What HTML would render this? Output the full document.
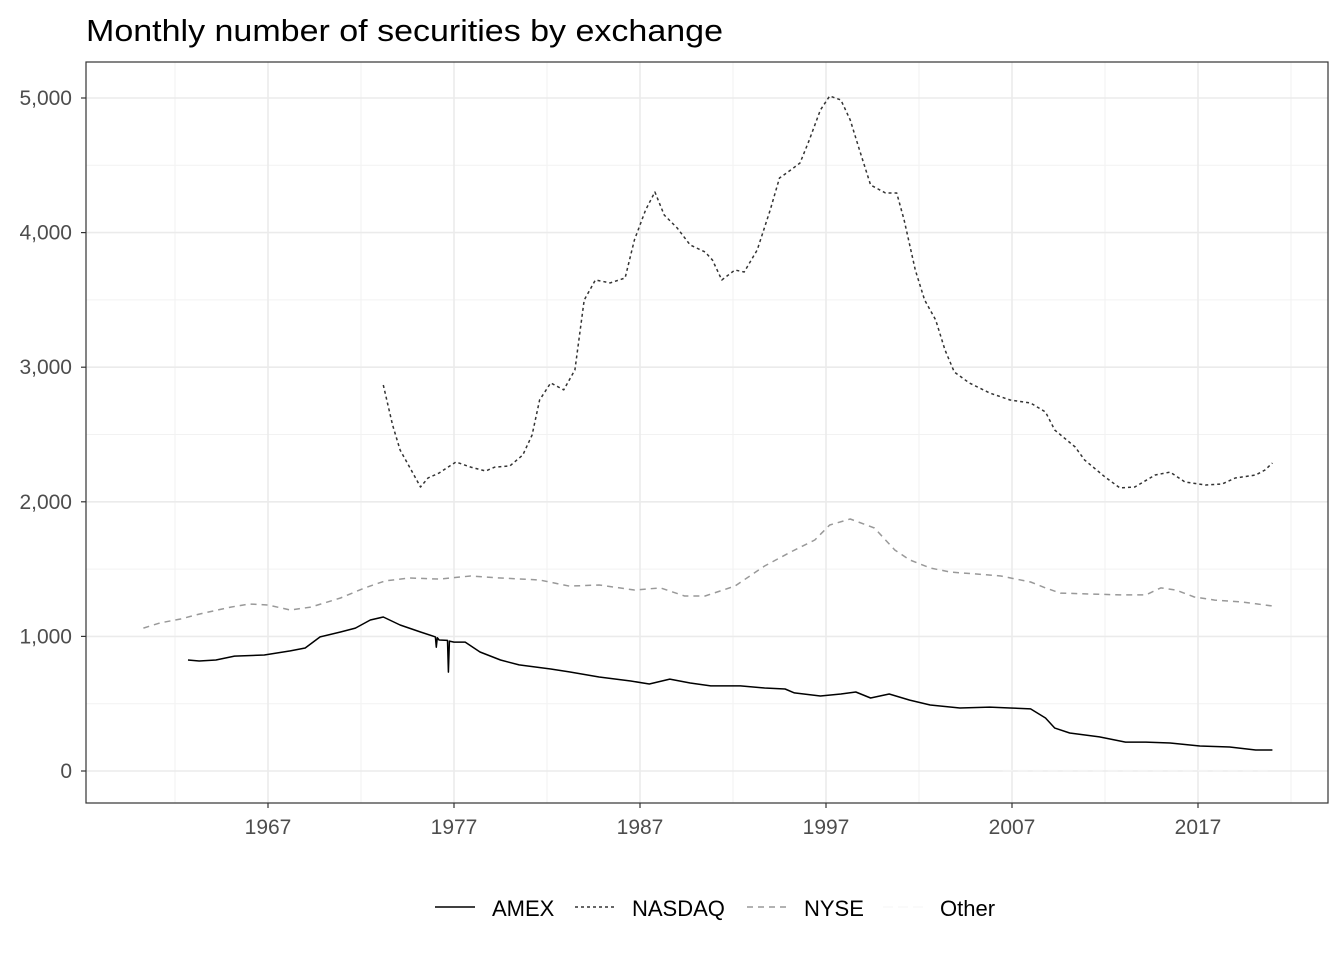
<!DOCTYPE html>
<html><head><meta charset="utf-8"><style>
body{margin:0;background:#fff;font-family:"Liberation Sans",Arial,sans-serif;}
svg text{font-family:"Liberation Sans",Arial,sans-serif;}
</style></head><body>
<svg id="chart" width="1344" height="960" xmlns="http://www.w3.org/2000/svg">
<rect width="1344" height="960" fill="#fff"/>
<text x="86" y="41" font-size="31" textLength="637" lengthAdjust="spacingAndGlyphs" fill="#000">Monthly number of securities by exchange</text>
<g id="grid"></g>
<g id="series"></g>
<rect x="86" y="62" width="1242" height="741" fill="none" stroke="#333" stroke-width="1.2"/>
<g id="axes"></g>
<g>
<line x1="435" y1="907" x2="475" y2="907" stroke="#000" stroke-width="1.5"/>
<text x="492" y="916" font-size="22">AMEX</text>
<line x1="575" y1="907" x2="615" y2="907" stroke="#333" stroke-width="1.5" stroke-dasharray="3,3"/>
<text x="632" y="916" font-size="22">NASDAQ</text>
<line x1="747" y1="907" x2="787" y2="907" stroke="#999" stroke-width="1.5" stroke-dasharray="6,5"/>
<text x="804" y="916" font-size="22">NYSE</text>
<line x1="883" y1="907" x2="923" y2="907" stroke="#f8f8f8" stroke-width="1.5" stroke-dasharray="10,5"/>
<text x="940" y="916" font-size="22">Other</text>
</g>
</svg>
<script>
const xTicks=[1967,1977,1987,1997,2007,2017];
const yTicks=[0,1000,2000,3000,4000,5000];
const nasdaqYears=[1973.2,1973.7,1974.1,1974.7,1975.2,1975.6,1976.2,1977.1,1977.9,1978.7,1979.2,1980.0,1980.7,1981.2,1981.6,1982.2,1982.9,1983.5,1984.0,1984.6,1985.4,1986.2,1986.7,1987.3,1987.8,1988.3,1989.0,1989.7,1990.5,1990.9,1991.4,1992.1,1992.6,1993.3,1994.0,1994.5,1995.1,1995.6,1996.1,1996.7,1997.2,1997.8,1998.3,1998.8,1999.4,2000.2,2000.8,2001.2,2001.8,2002.3,2002.9,2003.4,2003.9,2004.7,2005.8,2006.9,2008.0,2008.8,2009.3,2010.4,2010.9,2012.0,2012.8,2013.6,2014.7,2015.5,2016.3,2017.4,2018.3,2019.0,2020.1,2020.6,2021.0];
const nasdaqValues=[2868,2570,2385,2236,2110,2177,2214,2296,2258,2229,2258,2266,2348,2496,2756,2883,2831,2979,3499,3648,3626,3663,3945,4168,4302,4131,4034,3908,3856,3796,3648,3722,3707,3871,4168,4406,4465,4517,4688,4911,5015,4985,4837,4614,4354,4294,4294,4094,3722,3499,3351,3128,2964,2883,2808,2756,2734,2667,2533,2407,2311,2184,2103,2110,2199,2221,2147,2125,2132,2177,2199,2236,2288];
const nyseYears=[1960.3,1961.2,1962.3,1963.3,1965.0,1966.0,1967.0,1968.2,1969.3,1970.9,1972.2,1973.3,1974.6,1976.2,1977.9,1979.5,1981.6,1983.2,1984.8,1986.7,1988.1,1989.4,1990.5,1992.1,1993.7,1995.1,1996.4,1997.2,1998.3,1999.6,2000.7,2001.5,2002.6,2003.7,2005.0,2006.4,2008.0,2008.8,2009.6,2011.2,2012.8,2014.2,2015.0,2015.8,2016.8,2017.9,2019.3,2020.2,2021.0];
const nyseValues=[1062,1100,1129,1166,1218,1241,1233,1196,1218,1285,1360,1412,1434,1426,1449,1434,1419,1374,1382,1345,1360,1300,1300,1374,1523,1627,1716,1828,1872,1805,1642,1568,1508,1478,1464,1449,1404,1360,1322,1315,1308,1308,1360,1345,1293,1270,1256,1241,1226];
const amexYears=[1962.7,1963.3,1964.2,1965.2,1966.8,1968.2,1969.0,1969.8,1970.9,1971.7,1972.5,1973.2,1974.1,1975.2,1976.0,1976.05,1976.1,1976.2,1976.65,1976.7,1976.75,1977.0,1977.6,1978.4,1979.5,1980.5,1982.2,1983.2,1984.8,1986.5,1987.5,1988.6,1989.7,1990.8,1992.4,1993.7,1994.8,1995.3,1996.7,1997.8,1998.6,1999.4,2000.4,2001.5,2002.6,2004.2,2005.8,2006.9,2008.0,2008.8,2009.3,2010.1,2011.7,2013.1,2014.2,2015.5,2017.1,2018.7,2020.1,2021.0];
const amexValues=[825,817,825,854,862,892,914,996,1033,1062,1122,1144,1085,1033,996,920,990,973,970,735,965,958,958,884,825,788,758,736,698,669,646,683,654,632,632,617,609,580,557,572,587,542,572,527,490,468,475,468,461,394,319,282,253,215,215,208,186,178,156,156];
const otherYears=[2006.5,2010,2014,2018,2021];
const otherValues=[3,3,3,3,3];

const NS="http://www.w3.org/2000/svg";
const X0=86,X1=1328,Y0=62,Y1=803;
function sx(y){return 268+(y-1967)*18.6;}
function sy(v){return 771-v*0.1346;}
const grid=document.getElementById('grid'),axes=document.getElementById('axes'),ser=document.getElementById('series');
function mk(tag,attrs,parent){const e=document.createElementNS(NS,tag);for(const k in attrs)e.setAttribute(k,attrs[k]);parent.appendChild(e);return e;}
for(let yr=1962;yr<=2022;yr+=10){const l=mk('line',{x1:sx(yr),x2:sx(yr),y1:Y0,y2:Y1,stroke:'#f2f2f2','stroke-width':1},grid);

}
for(let v=500;v<=5000;v+=1000){const l=mk('line',{x1:X0,x2:X1,y1:sy(v),y2:sy(v),stroke:'#f2f2f2','stroke-width':1},grid);

}
xTicks.forEach(t=>{const l=mk('line',{x1:sx(t),x2:sx(t),y1:Y0,y2:Y1,stroke:'#ebebeb','stroke-width':1.6},grid);


const tk=mk('line',{x1:sx(t),x2:sx(t),y1:Y1,y2:Y1+5,stroke:'#333','stroke-width':1.2},axes);


const tx=mk('text',{x:sx(t),y:Y1+31,'text-anchor':'middle','font-size':21,fill:'#4d4d4d'},axes);tx.textContent=t;

});
yTicks.forEach(t=>{const l=mk('line',{x1:X0,x2:X1,y1:sy(t),y2:sy(t),stroke:'#ebebeb','stroke-width':1.6},grid);


const tk=mk('line',{x1:X0-5,x2:X0,y1:sy(t),y2:sy(t),stroke:'#333','stroke-width':1.2},axes);


const tx=mk('text',{x:X0-14,y:sy(t)+7,'text-anchor':'end','font-size':21,fill:'#4d4d4d'},axes);tx.textContent=t.toLocaleString('en-US');

});
function line(xs,vs,stroke,dash,name){const d=xs.map((x,i)=>(i?'L':'M')+sx(x).toFixed(1)+','+sy(vs[i]).toFixed(1)).join('');
const p=mk('path',{d:d,fill:'none',stroke:stroke,'stroke-width':1.5,'stroke-dasharray':dash,'stroke-linejoin':'round'},ser);

}
line(otherYears,otherValues,'#f4f4f4','10,5','other-line');
line(nyseYears,nyseValues,'#999','6,5','nyse-line');
line(nasdaqYears,nasdaqValues,'#333','3,3','nasdaq-line');
line(amexYears,amexValues,'#000','none','amex-line');
</script>
</body></html>
